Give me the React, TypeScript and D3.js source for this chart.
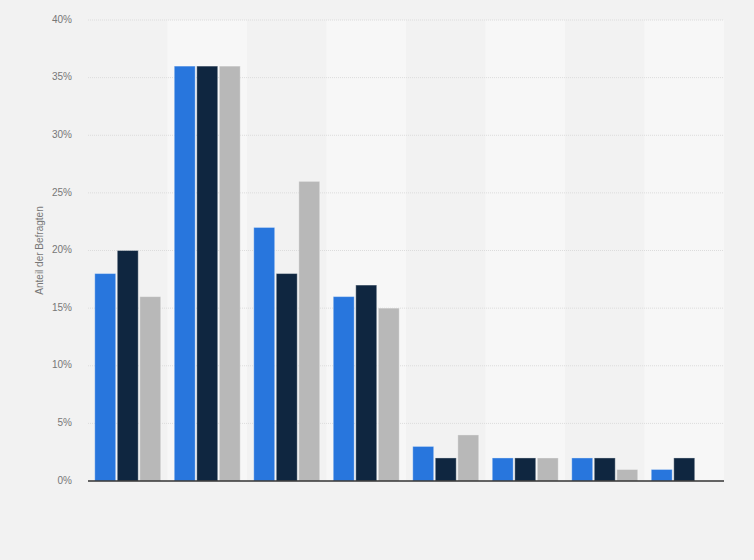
import * as d3 from "d3";

const groups = ["1", "2", "3", "4", "5", "6", "7", "8"];
const seriesNames = ["Serie A", "Serie B", "Serie C"];
const seriesA = [18, 36, 22, 16, 3, 2, 2, 1];
const seriesB = [20, 36, 18, 17, 2, 2, 2, 2];
const seriesC: (number | null)[] = [16, 36, 26, 15, 4, 2, 1, null];
const yTicks = [0, 5, 10, 15, 20, 25, 30, 35, 40];
const colors = ["#2876dd", "#0f2640", "#b8b8b8"];

const width = 754;
const height = 560;
const margin = { top: 20, right: 30, bottom: 79, left: 88 };

export default function App() {
  const series = [seriesA, seriesB, seriesC];

  const xScale = d3.scaleBand<string>()
    .domain(groups)
    .range([margin.left, width - margin.right])
    .paddingInner(0)
    .paddingOuter(0);

  const inner = d3.scaleBand<string>()
    .domain(seriesNames)
    .range([0, xScale.bandwidth()])
    .paddingInner(0.07)
    .paddingOuter(0.3);

  const yScale = d3.scaleLinear()
    .domain([0, 40])
    .range([height - margin.bottom, margin.top]);

  const font = "'Liberation Sans', Arial, sans-serif";

  return (
    <svg
      width={width}
      height={height}
      style={{ position: "absolute", left: 0, top: 0, background: "#f2f2f2" }}
      fontFamily={font}
    >
      {/* bands */}
      {groups.map((g, i) => i % 2 === 1 && (
        <rect
          key={g}
          x={xScale(g)}
          y={margin.top}
          width={xScale.bandwidth()}
          height={height - margin.bottom - margin.top}
          fill="#f7f7f7"
        />
      ))}

      {/* grid */}
      {yTicks.map(t => t > 0 && (
        <line
          key={t}
          x1={margin.left}
          x2={width - margin.right}
          y1={yScale(t)}
          y2={yScale(t)}
          stroke="#dcdcdc"
          strokeDasharray="1,1"
        />
      ))}

      {/* y ticks */}
      {yTicks.map(t => (
        <text
          key={t}
          x={72}
          y={yScale(t)}
          textAnchor="end"
          dominantBaseline="middle"
          fontSize="10"
          fill="#777"
        >
          {t}%
        </text>
      ))}

      <text
        transform={`translate(43,${(margin.top + height - margin.bottom) / 2}) rotate(-90)`}
        textAnchor="middle"
        fontSize="10"
        fill="#777"
      >
        Anteil der Befragten
      </text>

      {/* bars */}
      {groups.map((g, gi) =>
        series.map((s, si) => {
          const v = s[gi];
          if (v == null) return null;
          const x = (xScale(g) ?? 0) + (inner(seriesNames[si]) ?? 0);
          return (
            <rect
              key={g + si}
              x={x}
              y={yScale(v)}
              width={inner.bandwidth()}
              height={yScale(0) - yScale(v)}
              fill={colors[si]}
              stroke="rgba(255,255,255,0.35)"
              strokeWidth={1}
            />
          );
        })
      )}

      {/* axis */}
      <line
        x1={margin.left}
        x2={width - margin.right}
        y1={yScale(0)}
        y2={yScale(0)}
        stroke="#333"
        strokeWidth={1.3}
      />
    </svg>
  );
}
